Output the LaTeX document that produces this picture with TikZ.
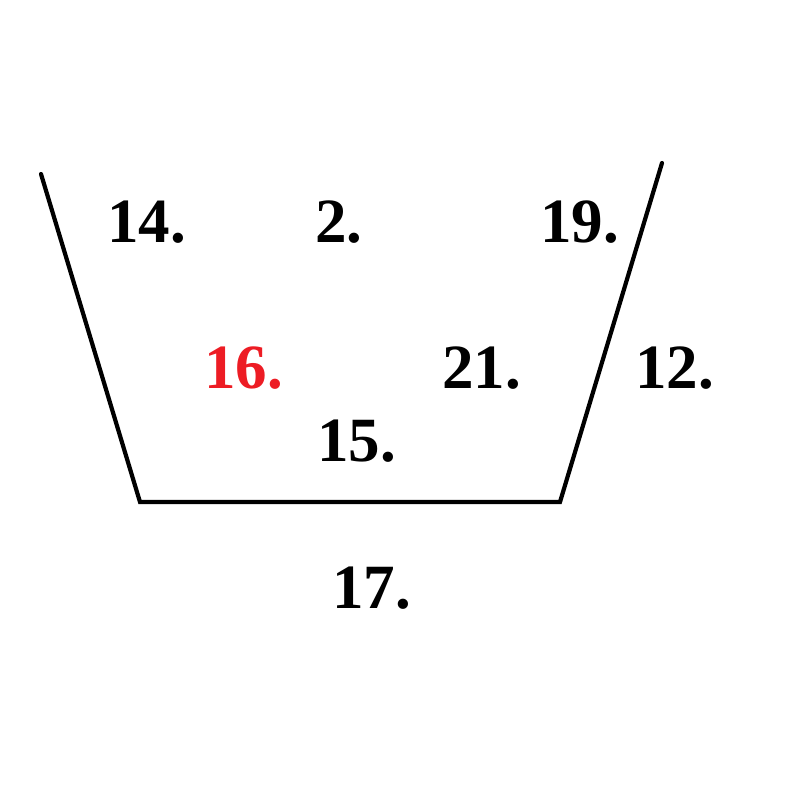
\documentclass[tikz,border=0pt]{standalone}
\usepackage{fontspec}
\setmainfont{Liberation Serif}
\definecolor{numred}{RGB}{237,28,36}
\tikzset{
  num/.style={anchor=base west, inner sep=0pt, font=\fontsize{63}{63}\selectfont\bfseries},
  edge/.style={line width=4.2pt, line cap=round, black}
}
\begin{document}
\begin{tikzpicture}[x=1pt,y=-1pt]
\useasboundingbox (0,0) rectangle (800,804);
\coordinate (tl) at (41,174);
\coordinate (bl) at (140,502);
\coordinate (br) at (560,502);
\coordinate (tr) at (662,163);
\draw[edge] (tl) -- (bl) -- (br) -- (tr);
\node[num] (n14) at (107,242) {14.};
\node[num] (n2) at (315,242) {2.};
\node[num] (n19) at (540,242) {19.};
\node[num, text=numred] (n16) at (204,388) {16.};
\node[num] (n21) at (442,388) {21.};
\node[num] (n12) at (635,388) {12.};
\node[num] (n15) at (317,461) {15.};
\node[num] (n17) at (332,608) {17.};
\end{tikzpicture}
\end{document}
